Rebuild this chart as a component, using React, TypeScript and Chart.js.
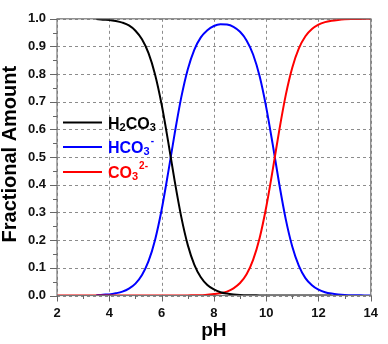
import React, { useEffect, useRef } from "react";
import { Chart, registerables } from "chart.js";

Chart.register(...registerables);

const PH = [
  2, 2.25, 2.5, 2.75, 3, 3.25, 3.5, 3.75, 4, 4.25, 4.5, 4.75, 5, 5.25, 5.5, 5.75, 6, 6.25, 6.5, 6.75,
  7, 7.25, 7.5, 7.75, 8, 8.25, 8.5, 8.75, 9, 9.25, 9.5, 9.75, 10, 10.25, 10.5, 10.75, 11, 11.25, 11.5,
  11.75, 12, 12.25, 12.5, 12.75, 13, 13.25, 13.5, 13.75, 14,
];

// H2CO3 from pH 3.5 to 12.5
const H2CO3_START = 3.5;
const H2CO3 = [
  0.999, 0.997, 0.996, 0.992, 0.986, 0.976, 0.957, 0.926, 0.876, 0.799, 0.691, 0.557, 0.414, 0.285,
  0.183, 0.112, 0.066, 0.038, 0.022, 0.012, 0.007, 0.004, 0.002, 0.001, 0.001, 0, 0, 0, 0, 0, 0, 0, 0,
  0, 0, 0, 0,
];

// HCO3- from pH 3.5 to 14
const HCO3_START = 3.5;
const HCO3 = [
  0.001, 0.003, 0.004, 0.008, 0.014, 0.025, 0.043, 0.074, 0.124, 0.201, 0.309, 0.443, 0.585, 0.715,
  0.817, 0.888, 0.933, 0.959, 0.974, 0.98, 0.979, 0.971, 0.953, 0.922, 0.871, 0.792, 0.681, 0.546,
  0.403, 0.275, 0.176, 0.107, 0.063, 0.037, 0.021, 0.012, 0.007, 0.004, 0.002, 0.001, 0.001, 0, 0,
];

// CO3 2- from pH 2 to 14
const CO3 = [
  0, 0, 0, 0, 0, 0, 0, 0, 0, 0, 0, 0, 0, 0, 0, 0, 0, 0, 0, 0, 0, 0.001, 0.001, 0.003, 0.005, 0.008,
  0.014, 0.026, 0.045, 0.077, 0.129, 0.208, 0.319, 0.454, 0.597, 0.725, 0.824, 0.893, 0.937, 0.963,
  0.979, 0.988, 0.993, 0.996, 0.998, 0.999, 0.999, 1, 1,
];

const X_TICKS = [2, 4, 6, 8, 10, 12, 14];
const Y_TICK_LABELS = ["0.0", "0.1", "0.2", "0.3", "0.4", "0.5", "0.6", "0.7", "0.8", "0.9", "1.0"];

const X_TITLE = "pH";
const Y_TITLE = "Fractional Amount";

type Part = { t: string; k: "n" | "sub" | "sup" };
const LEGEND: { color: string; parts: Part[] }[] = [
  { color: "#000000", parts: [{ t: "H", k: "n" }, { t: "2", k: "sub" }, { t: "CO", k: "n" }, { t: "3", k: "sub" }] },
  { color: "#0000ff", parts: [{ t: "HCO", k: "n" }, { t: "3", k: "sub" }, { t: "-", k: "sup" }] },
  { color: "#ff0000", parts: [{ t: "CO", k: "n" }, { t: "3", k: "sub" }, { t: "2-", k: "sup" }] },
];

const FONT = "'Liberation Sans', Arial, sans-serif";

function toPoints(values: number[], start: number) {
  const i0 = PH.indexOf(start);
  return values.map((v, i) => ({ x: PH[i0 + i], y: v }));
}

const gridPlugin = {
  id: "dashGrid",
  beforeDatasetsDraw(chart: any) {
    const { ctx, chartArea: a, scales } = chart;
    ctx.save();
    ctx.strokeStyle = "#8c8c8c";
    ctx.lineWidth = 1;
    ctx.setLineDash([3, 3]);
    X_TICKS.forEach((v) => {
      const px = Math.round(scales.x.getPixelForValue(v)) + 0.5;
      ctx.beginPath();
      ctx.moveTo(px, a.top);
      ctx.lineTo(px, a.bottom);
      ctx.stroke();
    });
    Y_TICK_LABELS.forEach((t) => {
      const py = Math.round(scales.y.getPixelForValue(parseFloat(t))) + 0.5;
      ctx.beginPath();
      ctx.moveTo(a.left, py);
      ctx.lineTo(a.right, py);
      ctx.stroke();
    });
    ctx.restore();
  },
};

const framePlugin = {
  id: "frameTicks",
  afterDatasetsDraw(chart: any) {
    const { ctx, chartArea: a, scales } = chart;
    const xs = scales.x;
    const ys = scales.y;
    ctx.save();
    ctx.strokeStyle = "#777";
    ctx.lineWidth = 1.2;
    ctx.strokeRect(a.left, a.top, a.right - a.left, a.bottom - a.top);
    ctx.strokeStyle = "#666";
    ctx.lineWidth = 1;
    for (let v = 2; v <= 14; v += 1) {
      const px = Math.round(xs.getPixelForValue(v)) + 0.5;
      const len = v % 2 === 0 ? 6 : 3.5;
      ctx.beginPath();
      ctx.moveTo(px, a.bottom);
      ctx.lineTo(px, a.bottom + len);
      ctx.stroke();
    }
    for (let i = 0; i <= 20; i++) {
      const v = i * 0.05;
      const py = Math.round(ys.getPixelForValue(v)) + 0.5;
      const len = i % 2 === 0 ? 7 : 4;
      ctx.beginPath();
      ctx.moveTo(a.left, py);
      ctx.lineTo(a.left - len, py);
      ctx.stroke();
    }
    // legend
    const lx0 = 63;
    const lx1 = 102;
    const tx = 108;
    const ys0 = [122.5, 147, 172];
    LEGEND.forEach((e, i) => {
      const y = ys0[i];
      ctx.strokeStyle = e.color;
      ctx.lineWidth = 2;
      ctx.beginPath();
      ctx.moveTo(lx0, y);
      ctx.lineTo(lx1, y);
      ctx.stroke();
      ctx.fillStyle = e.color;
      ctx.textBaseline = "alphabetic";
      ctx.textAlign = "left";
      let x = tx;
      const base = y + 6;
      e.parts.forEach((p) => {
        if (p.k === "n") {
          ctx.font = `bold 16px ${FONT}`;
          ctx.fillText(p.t, x, base);
        } else if (p.k === "sub") {
          ctx.font = `bold 11px ${FONT}`;
          ctx.fillText(p.t, x, base + 2);
        } else {
          ctx.font = `bold 10px ${FONT}`;
          ctx.fillText(p.t, x + 1, base - 9);
        }
        x += ctx.measureText(p.t).width + (p.k === "sup" ? 1 : 0);
      });
    });
    // titles
    ctx.fillStyle = "#000";
    ctx.font = `bold 19px ${FONT}`;
    ctx.textAlign = "center";
    ctx.textBaseline = "middle";
    ctx.fillText(X_TITLE, (a.left + a.right) / 2, 331);
    ctx.save();
    ctx.translate(10, (a.top + a.bottom) / 2 - 3);
    ctx.rotate(-Math.PI / 2);
    ctx.font = `bold 20px ${FONT}`;
    ctx.fillText(Y_TITLE, 0, 0);
    ctx.restore();
    ctx.restore();
  },
};

export default function App() {
  const ref = useRef<HTMLCanvasElement | null>(null);
  useEffect(() => {
    if (!ref.current) return;
    const chart = new Chart(ref.current, {
      type: "line",
      data: {
        datasets: [
          {
            label: "H2CO3",
            data: toPoints(H2CO3, H2CO3_START),
            borderColor: "#000000",
            borderWidth: 2,
            pointRadius: 0,
            cubicInterpolationMode: "monotone",
          },
          {
            label: "CO3 2-",
            data: toPoints(CO3, 2),
            borderColor: "#ff0000",
            borderWidth: 2,
            pointRadius: 0,
            cubicInterpolationMode: "monotone",
          },
          {
            label: "HCO3-",
            data: toPoints(HCO3, HCO3_START),
            borderColor: "#0000ff",
            borderWidth: 2,
            pointRadius: 0,
            cubicInterpolationMode: "monotone",
          },
        ],
      },
      options: {
        animation: false,
        responsive: false,
        devicePixelRatio: 1,
        layout: { padding: { top: 6, right: 9, left: 0, bottom: 0 } },
        plugins: { legend: { display: false }, tooltip: { enabled: false } },
        scales: {
          x: {
            type: "linear",
            min: 2,
            max: 14,
            afterBuildTicks: (s: any) => {
              s.ticks = X_TICKS.map((v) => ({ value: v }));
            },
            afterFit: (s: any) => {
              s.height = 48.5;
            },
            ticks: {
              padding: 10,
              color: "#111",
              font: { family: FONT, size: 13, weight: "bold" },
              callback: (v: any) => String(v),
            },
            grid: { display: false, drawTicks: false, tickLength: 0 },
            border: { display: false },
          },
          y: {
            min: 0,
            max: 1,
            afterBuildTicks: (s: any) => {
              s.ticks = Y_TICK_LABELS.map((t) => ({ value: parseFloat(t) }));
            },
            afterFit: (s: any) => {
              s.width = 57;
            },
            ticks: {
              padding: 11,
              color: "#111",
              font: { family: FONT, size: 13, weight: "bold" },
              callback: (v: any) => Number(v).toFixed(1),
            },
            grid: { display: false, drawTicks: false, tickLength: 0 },
            border: { display: false },
          },
        },
      },
      plugins: [gridPlugin, framePlugin],
    } as any);
    return () => chart.destroy();
  }, []);
  return (
    <div style={{ position: "fixed", left: 0, top: 0, width: 388, height: 344, background: "#fff" }}>
      <canvas ref={ref} width={388} height={344} />
    </div>
  );
}
